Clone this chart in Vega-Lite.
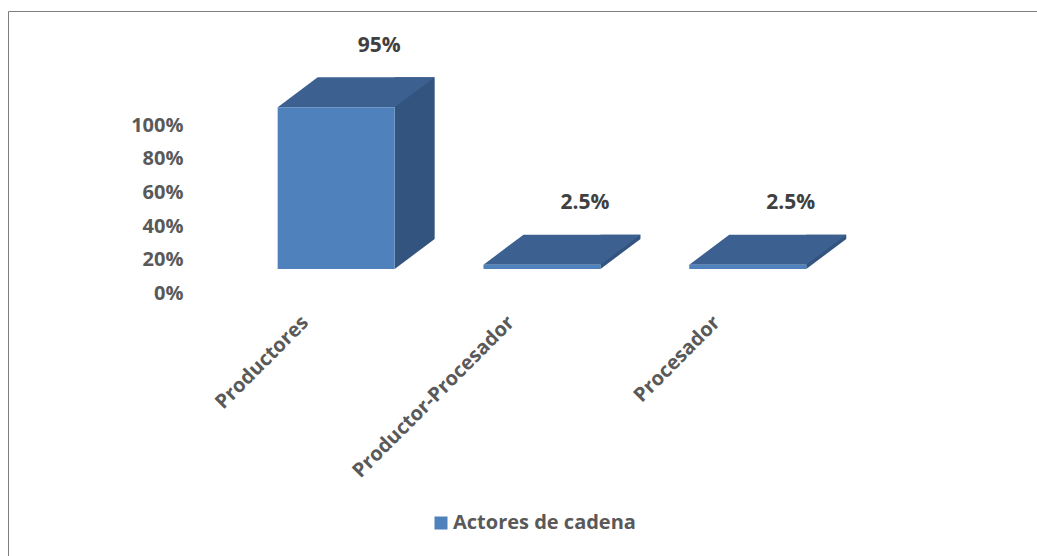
{
  "$schema": "https://vega.github.io/schema/vega-lite/v6.json",
  "width": 1029,
  "height": 545,
  "autosize": "none",
  "padding": {"left": 8, "top": 11, "right": 0, "bottom": 0},
  "background": "white",
  "config": {"view": {"stroke": null}, "font": "Open Sans"},
  "data": {"values": [
    {"actor": "Productores", "value": 0.95, "serie": "Actores de cadena"},
    {"actor": "Productor-Procesador", "value": 0.025, "serie": "Actores de cadena"},
    {"actor": "Procesador", "value": 0.025, "serie": "Actores de cadena"}
  ]},
  "layer": [
    {
      "mark": {"type": "tick", "opacity": 0},
      "encoding": {
        "x": {"field": "actor", "type": "nominal", "sort": null,
          "scale": {"type": "band", "paddingInner": 0, "paddingOuter": 1.2079, "align": 0.4553},
          "axis": {"orient": "bottom", "offset": -268, "title": null, "labelAngle": -45, "labelPadding": 24, "labelLimit": 400, "ticks": false, "domain": false, "grid": false,
            "labelFont": "Open Sans", "labelFontWeight": "bold", "labelFontSize": 20, "labelColor": "#595959"}},
        "y": {"field": "value", "type": "quantitative",
          "scale": {"domain": [-1.5637, 1.6804], "nice": false, "zero": false},
          "axis": {"orient": "left", "offset": 0, "title": null, "values": [0, 0.2, 0.4, 0.6, 0.8, 1], "format": ".0%", "ticks": false, "grid": false,
            "domain": true, "domainColor": "#7f7f7f", "domainWidth": 1,
            "labelPadding": -175, "labelAlign": "right", "labelFont": "Open Sans", "labelFontWeight": "bold", "labelFontSize": 20, "labelColor": "#595959"}}
      }
    },
    {
      "encoding": {
        "x": {"field": "actor", "type": "nominal", "sort": null,
          "scale": {"type": "band", "paddingInner": 0, "paddingOuter": 1.00365, "align": 0.5473},
          "axis": {"orient": "top", "title": null, "labels": false, "ticks": false, "grid": false, "domain": true, "domainColor": "#7f7f7f", "domainWidth": 1}},
        "y": {"field": "value", "type": "quantitative",
          "scale": {"domain": [-1.6863, 1.5158], "nice": false, "zero": false},
          "axis": null}
      },
      "layer": [
        {"mark": {"type": "bar", "width": 40, "xOffset": 78.5, "yOffset": -30, "color": "#33547E"}},
        {"mark": {"type": "point", "shape": "M 58.5 0 L 98.5 -30 L 58.5 -30 Z", "size": 4, "filled": true, "opacity": 1, "color": "#33547E", "strokeWidth": 0},
          "encoding": {"y": {"datum": 0, "type": "quantitative", "scale": {"domain": [-1.6863, 1.5158], "nice": false, "zero": false}, "axis": null}}},
        {"mark": {"type": "point", "shape": "M -58.5 0 L 58.5 0 L 98.5 -30 L -18.5 -30 Z", "size": 4, "filled": true, "opacity": 1, "color": "#3C6190", "strokeWidth": 0}},
        {"mark": {"type": "bar", "width": 117},
          "encoding": {"color": {"field": "serie", "type": "nominal", "scale": {"range": ["#4F81BD"]},
            "legend": {"orient": "none", "legendX": 423, "legendY": 502, "title": null, "symbolType": "square", "symbolSize": 169, "symbolStrokeWidth": 0, "labelLimit": 400,
              "labelFont": "Open Sans", "labelFontSize": 20, "labelFontWeight": "bold", "labelColor": "#595959", "labelOffset": 2}}}},
        {"mark": {"type": "text", "dx": 43, "dy": -61.5, "font": "Open Sans", "fontSize": 21, "fontWeight": "bold", "color": "#404040"},
          "encoding": {"text": {"field": "value", "type": "quantitative", "format": "~%"}}}
      ]
    }
  ],
  "resolve": {"scale": {"x": "independent", "y": "independent"}}
}
